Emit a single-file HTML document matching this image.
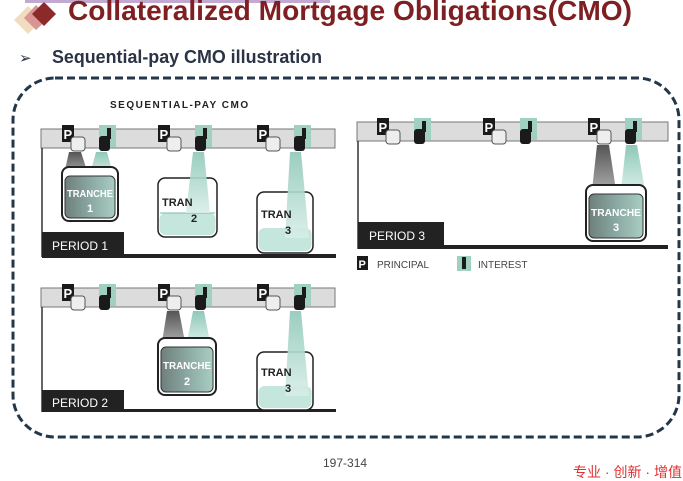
<!DOCTYPE html>
<html><head><meta charset="utf-8"><style>
html,body{margin:0;padding:0;background:#fff;width:683px;height:481px;overflow:hidden}
svg{display:block}
</style></head><body>
<svg width="683" height="481" viewBox="0 0 683 481" xmlns="http://www.w3.org/2000/svg" font-family="Liberation Sans, sans-serif">
<defs>
<linearGradient id="gb" x1="0" y1="0" x2="0" y2="1"><stop offset="0" stop-color="#555"/><stop offset="1" stop-color="#aaa"/></linearGradient>
<linearGradient id="tb" x1="0" y1="0" x2="0" y2="1"><stop offset="0" stop-color="#8fc8b8"/><stop offset="1" stop-color="#d8eee8"/></linearGradient>
<linearGradient id="tf" x1="0" y1="0" x2="1" y2="0"><stop offset="0" stop-color="#6f7f7c"/><stop offset="0.5" stop-color="#8aa8a1"/><stop offset="1" stop-color="#a8cdc3"/></linearGradient>
<g id="grp">
  <rect x="0" y="-4" width="12" height="17" fill="#1a1a1a"/>
  <text x="1.5" y="10" font-size="13" font-weight="bold" fill="#fff">P</text>
  <rect x="9" y="8" width="14" height="14" rx="3" fill="#eee" stroke="#555" stroke-width="1"/>
  <rect x="37" y="-4" width="17" height="22" fill="#9fd0c2"/>
  <rect x="45" y="-1" width="4" height="11" fill="#1a1a1a"/>
  <rect x="37" y="7" width="11" height="15" rx="3" fill="#1a1a1a"/>
</g>
<g id="bar"><rect x="0" y="0" width="294" height="19" fill="#dcdcdc" stroke="#777" stroke-width="1"/></g>
</defs>

<!-- title -->
<path d="M14 20 L28 6 L42 20 L28 34Z" fill="#f2dcc0"/>
<path d="M24 18 L36 5 L49 18 L36 30Z" fill="#d99494"/>
<path d="M32 14 L44 2 L56 14 L44 26Z" fill="#8c2a2a"/>
<rect x="25" y="0" width="305" height="3" fill="#9a6fb0" opacity="0.6"/>
<text x="68" y="20" font-size="28" font-weight="bold" fill="#7e1f22" textLength="564" lengthAdjust="spacingAndGlyphs">Collateralized Mortgage Obligations(CMO)</text>
<text x="19" y="63" font-size="15" fill="#2a3444">➢</text>
<text x="52" y="63" font-size="18" font-weight="bold" fill="#2a3444" textLength="270" lengthAdjust="spacingAndGlyphs">Sequential-pay CMO illustration</text>

<rect x="13" y="78" width="666" height="359" rx="42" fill="none" stroke="#23374a" stroke-width="3" stroke-dasharray="8 4"/>

<!-- Panel 1 -->
<rect x="36" y="92" width="306" height="168" fill="#fff"/>
<text x="110" y="108" font-size="10" font-weight="bold" letter-spacing="1.5" fill="#222">SEQUENTIAL-PAY CMO</text>
<use href="#bar" x="41" y="129"/>
<line x1="42" y1="148" x2="42" y2="257" stroke="#333" stroke-width="1.5"/>
<rect x="42" y="254" width="294" height="4" fill="#222"/>
<rect x="42" y="232" width="82" height="26" fill="#222"/>
<text x="52" y="250" font-size="12" fill="#fff">PERIOD 1</text>
<path d="M69 152 L81 152 L88 174 L64 174Z" fill="url(#gb)"/>
<path d="M96 152 L107 152 L113 174 L90 174Z" fill="url(#tb)"/>
<rect x="62" y="167" width="56" height="54" rx="7" fill="#fff" stroke="#222" stroke-width="2"/>
<rect x="65" y="176" width="50" height="42" rx="5" fill="url(#tf)" stroke="#333"/>
<text x="90" y="197" font-size="10" font-weight="bold" fill="#fff" text-anchor="middle" textLength="46" lengthAdjust="spacingAndGlyphs">TRANCHE</text>
<text x="90" y="212" font-size="11" font-weight="bold" fill="#fff" text-anchor="middle">1</text>
<use href="#grp" x="62" y="129"/>
<rect x="158" y="178" width="59" height="59" rx="7" fill="#fff" stroke="#222" stroke-width="1.5"/>
<rect x="159.5" y="213" width="56" height="22" rx="6" fill="#c5e6dc"/>
<line x1="160" y1="213" x2="215" y2="213" stroke="#7fb8a8"/>
<path d="M193 152 L204 152 L210 213 L186 213Z" fill="url(#tb)" opacity="0.9"/>
<text x="162" y="206" font-size="11" font-weight="bold" fill="#222">TRAN</text>
<text x="191" y="222" font-size="11" font-weight="bold" fill="#222">2</text>
<use href="#grp" x="158" y="129"/>
<rect x="257" y="192" width="56" height="61" rx="7" fill="#fff" stroke="#222" stroke-width="1.5"/>
<rect x="258.5" y="228" width="53" height="23" rx="6" fill="#c5e6dc"/>
<path d="M290 152 L301 152 L309 238 L285 238Z" fill="url(#tb)" opacity="0.9"/>
<text x="261" y="218" font-size="11" font-weight="bold" fill="#222">TRAN</text>
<text x="285" y="234" font-size="11" font-weight="bold" fill="#222">3</text>
<use href="#grp" x="257" y="129"/>

<!-- Panel 2 -->
<use href="#bar" x="41" y="288"/>
<line x1="42" y1="307" x2="42" y2="412" stroke="#333" stroke-width="1.5"/>
<rect x="42" y="409" width="294" height="3" fill="#222"/>
<rect x="42" y="390" width="82" height="22" fill="#222"/>
<text x="52" y="407" font-size="12" fill="#fff">PERIOD 2</text>
<use href="#grp" x="62" y="288"/>
<path d="M167 311 L179 311 L185 342 L162 342Z" fill="url(#gb)"/>
<path d="M193 311 L204 311 L210 342 L187 342Z" fill="url(#tb)"/>
<rect x="158" y="338" width="58" height="57" rx="7" fill="#fff" stroke="#222" stroke-width="2"/>
<rect x="161" y="347" width="52" height="45" rx="5" fill="url(#tf)" stroke="#333"/>
<text x="187" y="369" font-size="10" font-weight="bold" fill="#fff" text-anchor="middle" textLength="48" lengthAdjust="spacingAndGlyphs">TRANCHE</text>
<text x="187" y="385" font-size="11" font-weight="bold" fill="#fff" text-anchor="middle">2</text>
<use href="#grp" x="158" y="288"/>
<rect x="257" y="352" width="56" height="58" rx="7" fill="#fff" stroke="#222" stroke-width="1.5"/>
<rect x="258.5" y="386" width="53" height="22" rx="6" fill="#c5e6dc"/>
<path d="M290 311 L301 311 L309 396 L285 396Z" fill="url(#tb)" opacity="0.9"/>
<text x="261" y="376" font-size="11" font-weight="bold" fill="#222">TRAN</text>
<text x="285" y="392" font-size="11" font-weight="bold" fill="#222">3</text>
<use href="#grp" x="257" y="288"/>

<!-- Panel 3 -->
<rect x="357" y="122" width="311" height="19" fill="#dcdcdc" stroke="#777" stroke-width="1"/>
<line x1="358" y1="141" x2="358" y2="249" stroke="#333" stroke-width="1.5"/>
<rect x="358" y="245" width="310" height="4" fill="#222"/>
<rect x="358" y="222" width="86" height="27" fill="#222"/>
<text x="369" y="240" font-size="12" fill="#fff">PERIOD 3</text>
<use href="#grp" x="377" y="122"/>
<use href="#grp" x="483" y="122"/>
<path d="M597 145 L609 145 L616 190 L592 190Z" fill="url(#gb)"/>
<path d="M626 145 L637 145 L645 190 L621 190Z" fill="url(#tb)"/>
<rect x="586" y="185" width="60" height="56" rx="7" fill="#fff" stroke="#222" stroke-width="2"/>
<rect x="589" y="194" width="54" height="44" rx="5" fill="url(#tf)" stroke="#333"/>
<text x="616" y="216" font-size="10" font-weight="bold" fill="#fff" text-anchor="middle" textLength="50" lengthAdjust="spacingAndGlyphs">TRANCHE</text>
<text x="616" y="231" font-size="11" font-weight="bold" fill="#fff" text-anchor="middle">3</text>
<use href="#grp" x="588" y="122"/>
<rect x="357" y="256" width="11" height="14" fill="#1a1a1a"/>
<text x="358.5" y="268" font-size="11" font-weight="bold" fill="#fff">P</text>
<text x="377" y="268" font-size="10" fill="#444">PRINCIPAL</text>
<rect x="457" y="256" width="14" height="15" fill="#9fd0c2"/>
<rect x="462" y="257" width="4" height="12" fill="#1a1a1a"/>
<text x="478" y="268" font-size="10" fill="#444">INTEREST</text>

<text x="323" y="467" font-size="12" fill="#444">197-314</text>
<text x="573" y="477" font-size="14" fill="#e03030" textLength="109" lengthAdjust="spacingAndGlyphs" font-family="Liberation Sans, 'Noto Sans CJK SC', sans-serif">专业 · 创新 · 增值</text>
</svg>
</body></html>
